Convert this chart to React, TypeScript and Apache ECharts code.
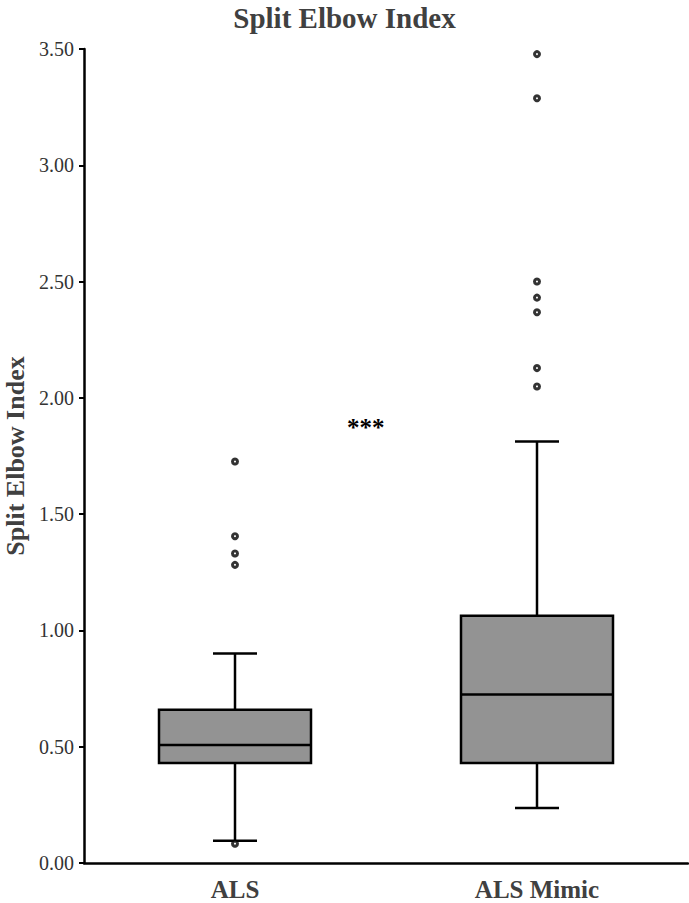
import React, { useEffect, useRef } from "react";
import * as echarts from "echarts";

const categories = ["ALS", "ALS Mimic"];
// [lower whisker, Q1, median, Q3, upper whisker]
const boxStats = [
  [0.096, 0.43, 0.507, 0.659, 0.901],
  [0.236, 0.43, 0.725, 1.063, 1.812],
];
const outliersALS = [1.726, 1.405, 1.331, 1.282, 0.083];
const outliersMimic = [3.478, 3.288, 2.5, 2.431, 2.368, 2.128, 2.049];
const yTicks = [0, 0.5, 1, 1.5, 2, 2.5, 3, 3.5];
const annotationText = "***";

const SERIF = "'Liberation Serif', 'Times New Roman', serif";

export default function App() {
  const ref = useRef<HTMLDivElement>(null);
  useEffect(() => {
    document.body.style.margin = "0";
    if (!ref.current) return;
    const chart = echarts.init(ref.current, null, { renderer: "svg" });
    const boxData = boxStats.map((s, i) => [i, ...s]);
    const outlierData = [
      ...outliersALS.map((v) => [0, v]),
      ...outliersMimic.map((v) => [1, v]),
    ];
    chart.setOption({
      animation: false,
      title: {
        text: "Split Elbow Index",
        left: "center",
        top: -2,
        textStyle: { fontFamily: SERIF, fontSize: 29, fontWeight: "bold", color: "#404040" },
      },
      grid: { left: 84, right: 1, top: 49, bottom: 40, outerBoundsMode: "none", containLabel: false },
      xAxis: {
        type: "category",
        data: categories,
        axisLine: { lineStyle: { color: "#000", width: 2.5 } },
        axisTick: { show: false },
        axisLabel: { fontFamily: SERIF, fontSize: 25, fontWeight: "bold", color: "#404040", margin: 14 },
        splitLine: { show: false },
      },
      yAxis: {
        type: "value",
        min: yTicks[0],
        max: yTicks[yTicks.length - 1],
        interval: 0.5,
        name: "Split Elbow Index",
        nameLocation: "middle",
        nameRotate: 90,
        nameGap: 56,
        nameTextStyle: { fontFamily: SERIF, fontSize: 26, fontWeight: "bold", color: "#404040" },
        axisLine: { show: true, lineStyle: { color: "#000", width: 2.5 } },
        axisTick: { show: true, length: 5, lineStyle: { color: "#000", width: 2 } },
        axisLabel: {
          fontFamily: SERIF,
          fontSize: 20,
          color: "#333",
          margin: 10,
          formatter: (v: number) => v.toFixed(2),
        },
        splitLine: { show: false },
      },
      series: [
        {
          type: "custom",
          data: boxData,
          encode: { x: 0, y: [1, 2, 3, 4, 5] },
          renderItem: (params: any, api: any) => {
            const xi = api.value(0);
            const lo = api.coord([xi, api.value(1)]);
            const q1 = api.coord([xi, api.value(2)]);
            const med = api.coord([xi, api.value(3)]);
            const q3 = api.coord([xi, api.value(4)]);
            const hi = api.coord([xi, api.value(5)]);
            const cx = lo[0];
            const bw = 152;
            const cw = 44;
            const ls = { stroke: "#000", lineWidth: 2.5 };
            return {
              type: "group",
              children: [
                { type: "line", shape: { x1: cx, y1: q3[1], x2: cx, y2: hi[1] }, style: ls },
                { type: "line", shape: { x1: cx, y1: q1[1], x2: cx, y2: lo[1] }, style: ls },
                { type: "line", shape: { x1: cx - cw / 2, y1: hi[1], x2: cx + cw / 2, y2: hi[1] }, style: ls },
                { type: "line", shape: { x1: cx - cw / 2, y1: lo[1], x2: cx + cw / 2, y2: lo[1] }, style: ls },
                {
                  type: "rect",
                  shape: { x: cx - bw / 2, y: q3[1], width: bw, height: q1[1] - q3[1] },
                  style: { fill: "#939393", stroke: "#000", lineWidth: 2.5 },
                },
                { type: "line", shape: { x1: cx - bw / 2, y1: med[1], x2: cx + bw / 2, y2: med[1] }, style: ls },
              ],
            };
          },
          z: 2,
        },
        {
          type: "scatter",
          data: outlierData,
          symbol: "circle",
          symbolSize: 5,
          itemStyle: { color: "#fff", borderColor: "#000", borderWidth: 3 },
          z: 3,
        },
      ],
      graphic: [
        {
          type: "text",
          left: 347,
          top: 415,
          style: { text: annotationText, font: `bold 25px ${SERIF}`, fill: "#000" },
        },
      ],
    });
    return () => chart.dispose();
  }, []);
  return <div ref={ref} style={{ width: 689, height: 903 }} />;
}
